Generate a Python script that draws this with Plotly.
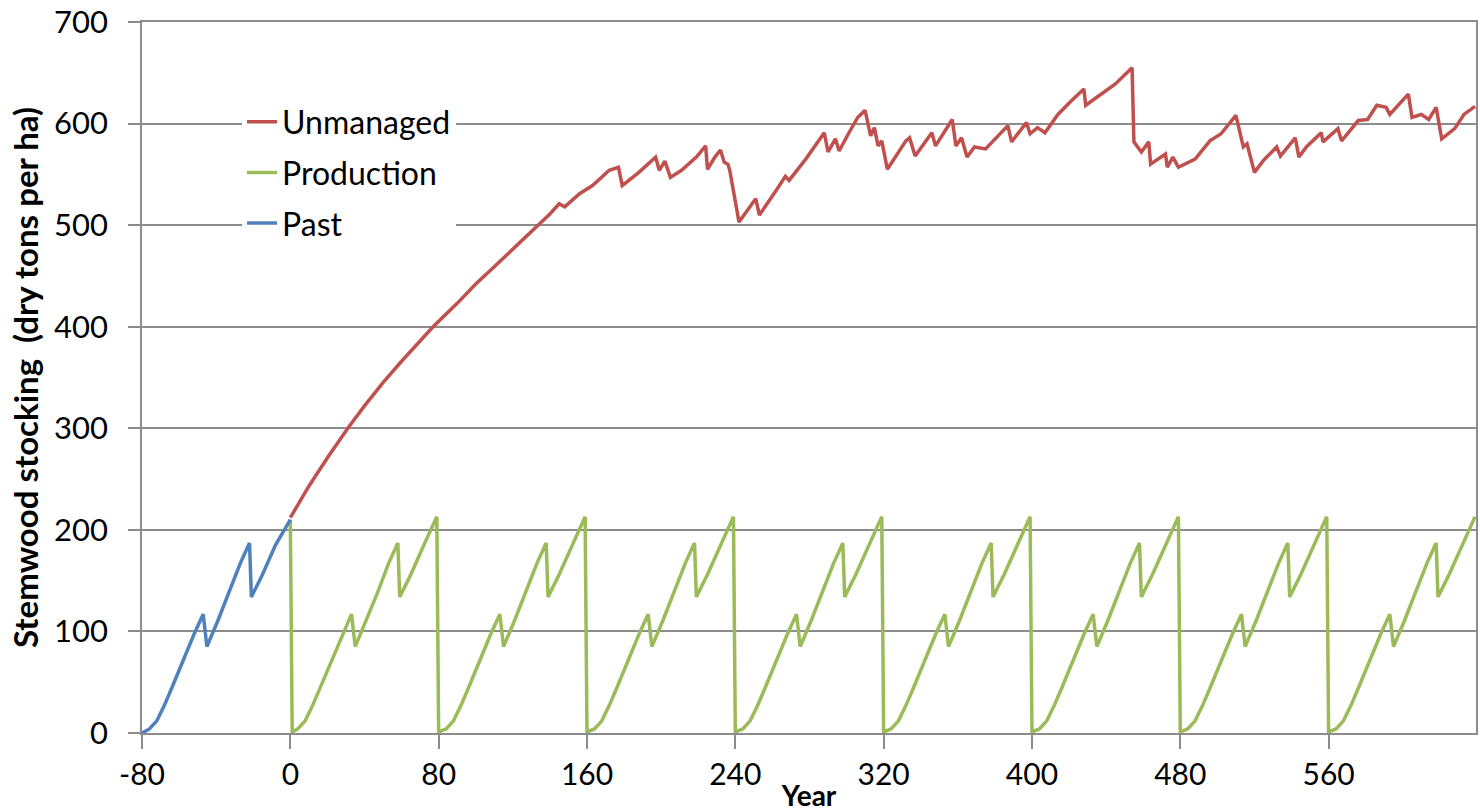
import plotly.graph_objects as go

# ---------------- data ----------------
past_year = [-80, -76, -72, -68, -64, -58, -52, -47, -45, -39, -33, -27, -22, -21, -15, -8, 0]
past_val = [0, 4, 12, 27, 44, 71, 97, 117, 85, 111, 138, 167, 187, 134, 156, 185, 210]

prod_year = [0, 1, 4, 8, 12, 16, 22, 28, 33, 35, 41, 47, 53, 58, 59, 65, 72, 79,
             80, 84, 88, 92, 96, 102, 108, 113, 115, 121, 127, 133, 138, 139, 145, 152, 159,
             160, 164, 168, 172, 176, 182, 188, 193, 195, 201, 207, 213, 218, 219, 225, 232, 239,
             240, 244, 248, 252, 256, 262, 268, 273, 275, 281, 287, 293, 298, 299, 305, 312, 319,
             320, 324, 328, 332, 336, 342, 348, 353, 355, 361, 367, 373, 378, 379, 385, 392, 399,
             400, 404, 408, 412, 416, 422, 428, 433, 435, 441, 447, 453, 458, 459, 465, 472, 479,
             480, 484, 488, 492, 496, 502, 508, 513, 515, 521, 527, 533, 538, 539, 545, 552, 559,
             560, 564, 568, 572, 576, 582, 588, 593, 595, 601, 607, 613, 618, 619, 625, 632, 639]
prod_val = [210, 1, 4, 12, 27, 44, 71, 97, 117, 85, 111, 138, 167, 187, 134, 156, 185, 213,
            1, 4, 12, 27, 44, 71, 97, 117, 85, 111, 138, 167, 187, 134, 156, 185, 213,
            1, 4, 12, 27, 44, 71, 97, 117, 85, 111, 138, 167, 187, 134, 156, 185, 213,
            1, 4, 12, 27, 44, 71, 97, 117, 85, 111, 138, 167, 187, 134, 156, 185, 213,
            1, 4, 12, 27, 44, 71, 97, 117, 85, 111, 138, 167, 187, 134, 156, 185, 213,
            1, 4, 12, 27, 44, 71, 97, 117, 85, 111, 138, 167, 187, 134, 156, 185, 213,
            1, 4, 12, 27, 44, 71, 97, 117, 85, 111, 138, 167, 187, 134, 156, 185, 213,
            1, 4, 12, 27, 44, 71, 97, 117, 85, 111, 138, 167, 187, 134, 156, 185, 213]

unm_year = [0, 10, 20, 31, 40, 50, 60, 70, 77, 90, 100, 110, 120, 127, 134, 140, 145,
            148, 156, 163, 172, 177, 179, 188, 197, 199, 202, 205, 211, 219, 224, 225,
            229, 232, 234, 236, 237, 238, 242, 251, 253, 262, 267, 269, 278, 288, 290,
            294, 296, 301, 306, 310, 313, 315, 317, 319, 322, 332, 334, 337, 346, 348,
            357, 359, 362, 365, 369, 375, 382, 387, 389, 397, 399, 403, 407, 414, 421,
            428, 429, 437, 445, 454, 455, 459, 463, 464, 472, 473, 476, 479, 488, 496,
            502, 510, 514, 516, 520, 525, 532, 534, 542, 544, 548, 556, 557, 565, 567,
            576, 581, 586, 591, 593, 603, 605, 610, 614, 618, 621, 628, 633, 638, 639]
unm_val = [212, 243, 271, 300, 322, 345, 366, 386, 400, 423, 442, 459, 476, 488, 500, 511, 521,
           518, 531, 539, 554, 557, 539, 552, 567, 554, 563, 547, 554, 567, 578, 555,
           567, 574, 562, 560, 554, 544, 503, 526, 510, 534, 548, 544, 565, 591, 572,
           585, 573, 590, 606, 613, 588, 596, 578, 583, 555, 583, 586, 568, 591, 578,
           604, 578, 586, 567, 577, 575, 588, 598, 582, 601, 590, 596, 591, 609, 622,
           634, 618, 629, 639, 655, 582, 572, 582, 560, 570, 557, 567, 557, 565, 583,
           590, 608, 577, 580, 552, 564, 577, 568, 586, 567, 577, 591, 582, 595, 583,
           603, 604, 618, 616, 609, 629, 606, 609, 604, 616, 585, 595, 609, 616, 617]

x_ticks = [-80, 0, 80, 160, 240, 320, 400, 480, 560]
y_ticks = [0, 100, 200, 300, 400, 500, 600, 700]

RED = "#C0504D"
GREEN = "#9BBB59"
BLUE = "#4F81BD"
GRID = "#8C8C8C"
FONT = "Lato, Carlito, Calibri, sans-serif"

fig = go.Figure()
fig.add_trace(go.Scatter(x=unm_year, y=unm_val, mode="lines", name="Unmanaged",
                         legendgroup="a", line=dict(color=RED, width=3.5)))
fig.add_trace(go.Scatter(x=prod_year, y=prod_val, mode="lines", name="Production",
                         legendgroup="b", line=dict(color=GREEN, width=3.5)))
fig.add_trace(go.Scatter(x=past_year, y=past_val, mode="lines", name="Past",
                         legendgroup="c", line=dict(color=BLUE, width=3.5)))

fig.update_layout(
    width=1480, height=812,
    margin=dict(l=142, r=2, t=21, b=78),
    paper_bgcolor="white", plot_bgcolor="white",
    font=dict(family=FONT, color="#000000"),
    showlegend=True,
    legend=dict(x=0.075, y=0.898, xanchor="left", yanchor="top",
                bgcolor="white", font=dict(size=32, family=FONT, color="#000000"),
                traceorder="grouped", tracegroupgap=6, borderwidth=0),
    xaxis=dict(range=[-80, 639.5], tickvals=x_ticks, ticktext=[str(v) for v in x_ticks],
               showgrid=False, zeroline=False, showline=True, linecolor=GRID, linewidth=1.5,
               mirror=True, ticks="outside", ticklen=14, tickcolor=GRID, tickwidth=1.5,
               tickfont=dict(size=30, family=FONT, color="#000000"),
               title=dict(text="<b>Year</b>", font=dict(size=28, family=FONT, color="#000000"),
                          standoff=0)),
    yaxis=dict(range=[0, 700], tickvals=y_ticks, showgrid=True, gridcolor=GRID, gridwidth=1.5,
               zeroline=False, showline=True, linecolor=GRID, linewidth=1.5, mirror=True,
               ticks="outside", ticklen=12, tickcolor=GRID, tickwidth=1.5,
               ticklabelstandoff=14,
               tickfont=dict(size=31, family=FONT, color="#000000"),
               title=dict(text="<b>Stemwood stocking  (dry tons per ha)</b>",
                          font=dict(size=33, family=FONT, color="#000000"), standoff=6)),
)

fig.write_html("out.html")
